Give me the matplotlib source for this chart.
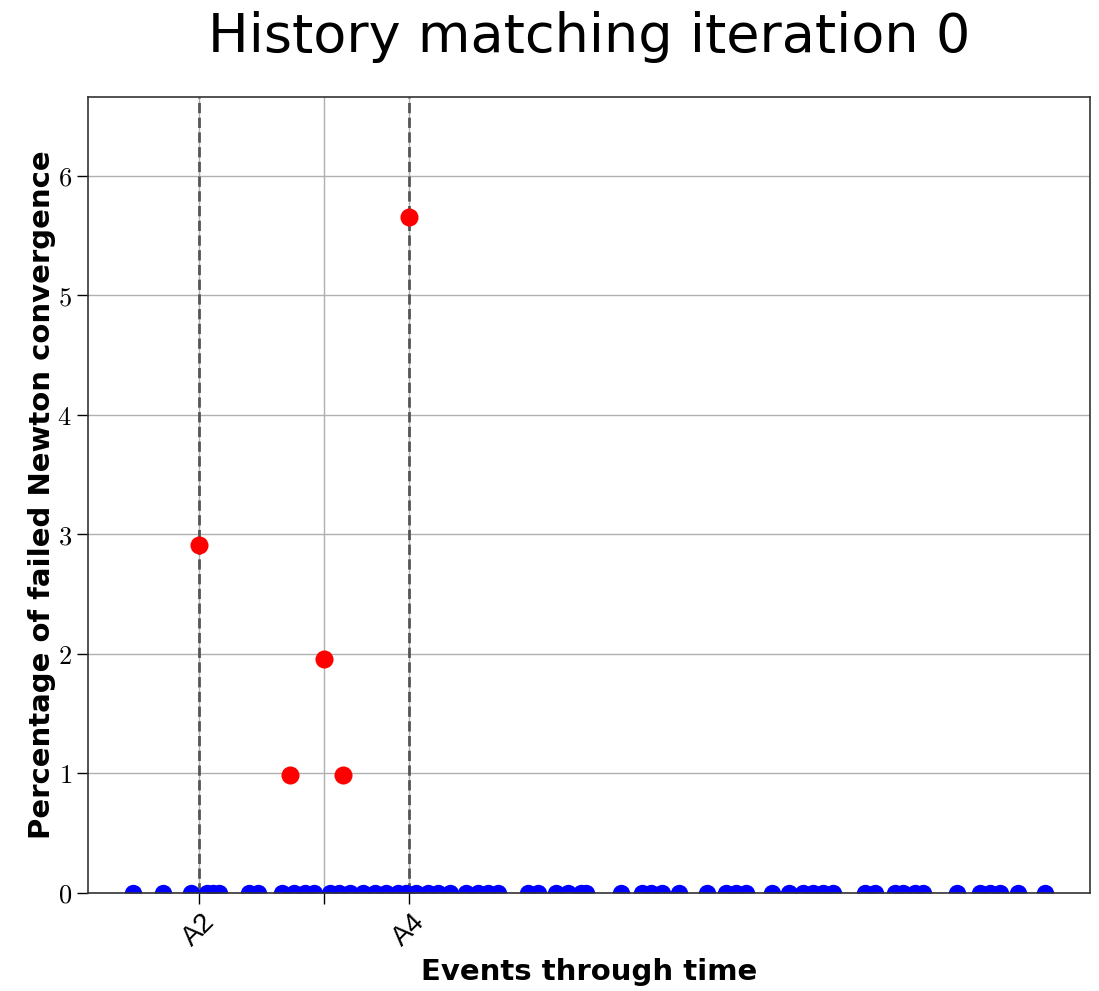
import matplotlib
matplotlib.use("Agg")
from matplotlib import pyplot as plt
import numpy as np

plt.rcParams['mathtext.fontset'] = 'cm'

# event times (days) with zero failed Newton convergence
zero_times = [0, 29, 57, 73, 79, 85, 115, 124, 148, 160, 171, 180, 196, 205,
              216, 228, 240, 251, 263, 271, 281, 293, 303, 315, 331, 343, 353,
              363, 393, 403, 421, 433, 445, 450, 485, 506, 515, 526, 543, 571,
              590, 600, 610, 636, 653, 666, 676, 686, 696, 728, 738, 758, 766,
              778, 786, 820, 843, 853, 863, 880, 907]
# event times with failures and percentage of failed convergence
fail_times = [65, 156, 190, 209, 274]
fail_pct = [2.91, 0.99, 1.96, 0.99, 5.66]

tick_pos = [65, 190, 274]
tick_labels = ['A2', '', 'A4']
event_lines = [65, 274]

fig = plt.figure(figsize=(10.99, 9.91), dpi=100)
ax = fig.add_axes([0.080, 0.099, 0.912, 0.803])

ax.grid(True, color='#b0b0b0', linewidth=1.0, zorder=0)
ax.set_axisbelow(True)
for x in event_lines:
    ax.axvline(x, color='#555555', linestyle='--', linewidth=2.0, zorder=1)

# zero dots sit on the x axis, only the upper half is visible
ax.plot(zero_times, np.zeros(len(zero_times)), 'o', markersize=12.5,
        color='blue', fillstyle='top', markerfacecoloralt='none',
        markeredgewidth=0, zorder=2)
ax.plot(fail_times, fail_pct, 'o', markersize=13, color='red',
        markeredgewidth=0, zorder=3)

ax.set_ylim(0, 6.66)
ax.set_yticks(range(7))
ax.set_yticklabels([r'$%d$' % i for i in range(7)], fontsize=19)
ax.set_xticks(tick_pos)
ax.set_xticklabels(tick_labels, rotation=45, fontsize=20,
                   family=['Liberation Sans', 'DejaVu Sans'])
ax.tick_params(axis='both', length=8, width=1)

ax.set_xlabel('Events through time', fontsize=21, fontweight='bold',
              labelpad=5)
ax.set_ylabel('Percentage of failed Newton convergence', fontsize=21,
              fontweight='bold', labelpad=1)

fig.text(0.536, 0.963, 'History matching iteration 0', ha='center', va='center',
         fontsize=39)

for s in ax.spines.values():
    s.set_color('#333333')
    s.set_linewidth(1.2)

fig.savefig('out.png', dpi=100)
